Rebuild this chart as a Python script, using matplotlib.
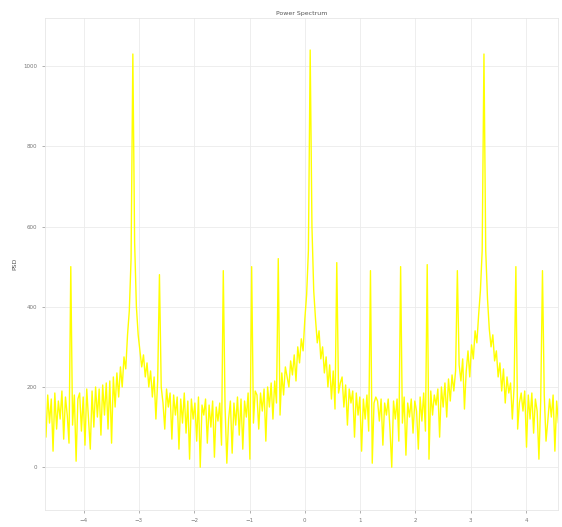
import numpy as np
import matplotlib
matplotlib.use("Agg")
import matplotlib.pyplot as plt

# Спектр потужності
power = [
    160, 75, 180, 110, 170, 40, 185, 95, 165, 120,
    190, 70, 175, 130, 60, 500, 105, 180, 15, 170,
    185, 90, 175, 55, 195, 120, 45, 190, 100, 200,
    125, 195, 80, 205, 130, 210, 95, 215, 60, 225,
    150, 235, 175, 250, 200, 275, 245, 330, 390, 520,
    1030,
    560, 400, 330, 290, 250, 280, 225, 260, 200,
    240, 175, 225, 120, 215, 480, 200, 160, 95, 195,
    150, 185, 70, 180, 130, 175, 45, 170, 110, 185,
    85, 165, 20, 170, 120, 160, 65, 175, 0, 155,
    130, 170, 60, 155, 100, 165, 25, 150, 115, 160,
    55, 490, 150, 10, 120, 165, 35, 160, 105, 175,
    80, 170, 45, 165, 125, 185, 20, 500, 110, 190,
    180, 95, 185, 140, 195, 65, 200, 150, 210, 120,
    215, 160, 520, 130, 235, 180, 250, 225, 200, 265,
    230, 280, 215, 300, 260, 320, 290, 370, 430, 540,
    1040,
    600, 440, 370, 310, 340, 270, 300,
    235, 275, 200, 255, 170, 240, 145, 510, 185, 210,
    225, 150, 205, 105, 195, 160, 190, 75, 185, 130,
    175, 40, 170, 120, 180, 90, 490, 10, 160, 175,
    165, 115, 170, 55, 160, 130, 170, 95, 0, 165,
    120, 170, 65, 500, 110, 175, 30, 160, 125, 170,
    85, 165, 140, 45, 175, 115, 185, 90, 505, 20,
    190, 130, 180, 155, 195, 75, 200, 150, 210, 125,
    220, 165, 230, 190, 240, 490, 255, 215, 270, 145,
    240, 290, 225, 305, 270, 340, 310, 380, 440, 540,
    1030,
    540, 420, 345, 300, 330, 265,
    290, 225, 260, 190, 245, 160, 225, 185, 210, 120,
    200, 500, 95, 160, 185, 140, 190, 50, 180, 120,
    185, 85, 170, 140, 20, 165, 490, 180, 65, 115,
    170, 125, 180, 40, 165, 110, 175, 0, 160, 120,
    170,
]
f_start, f_end = -4.714, 4.747
x_ticks = [-4, -3, -2, -1, 0, 1, 2, 3, 4]
y_ticks = [0, 200, 400, 600, 800, 1000]

freq = np.linspace(f_start, f_end, len(power))

fig = plt.figure(figsize=(5.62, 5.27), dpi=100)
ax = fig.add_axes([0.080, 0.032, 0.913, 0.934])

ax.plot(freq, power, color='#ffff00', linewidth=1.0)

ax.set_xlim(-4.7, 4.58)
ax.set_ylim(-107, 1120)
ax.set_xticks(x_ticks)
ax.set_yticks(y_ticks)
ax.set_title('Power Spectrum', fontsize=4.5, color='#555555', pad=2)
ax.set_ylabel('PSD', fontsize=4.5, color='#555555')
ax.tick_params(labelsize=4, colors='#777777', length=2, width=0.4)
ax.grid(True, color='#ebebeb', linewidth=0.6)
ax.set_axisbelow(True)
for s in ax.spines.values():
    s.set_color('#e6e6e6')
    s.set_linewidth(0.6)

plt.savefig('out.png', dpi=100)
